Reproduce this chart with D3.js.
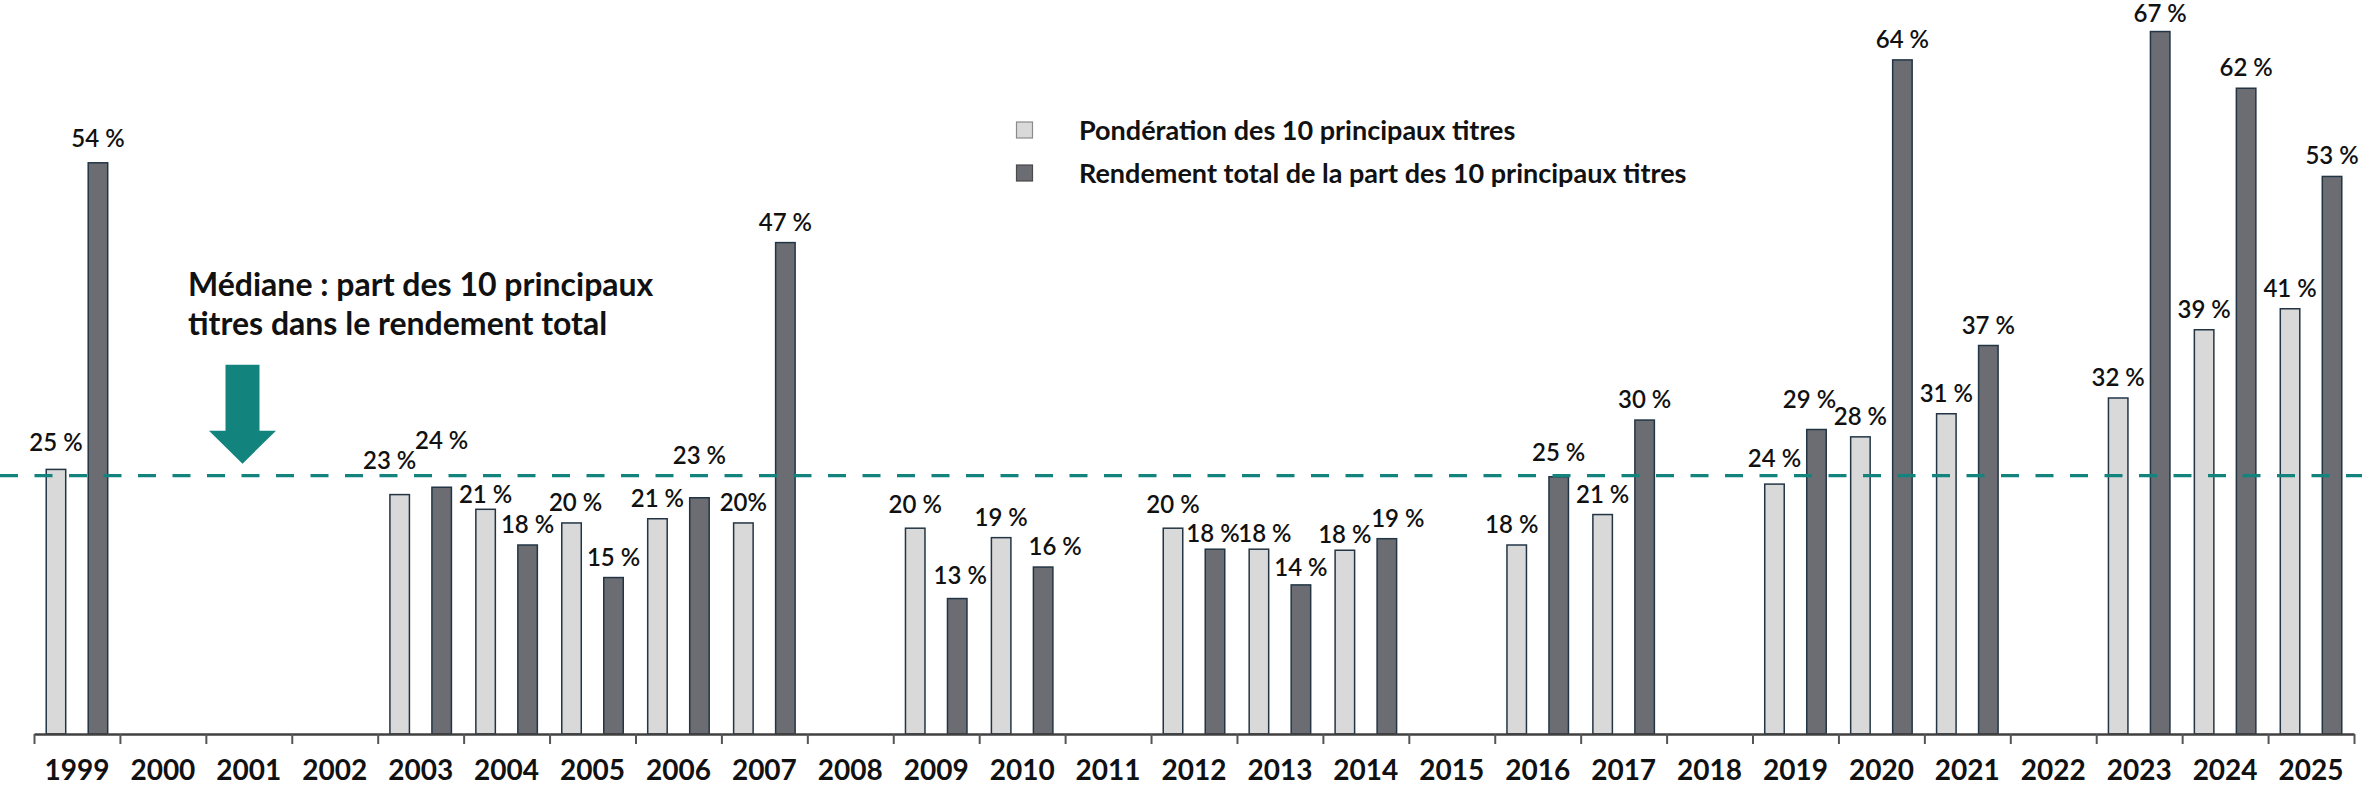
<!DOCTYPE html>
<html>
<head>
<meta charset="utf-8">
<script src="https://cdnjs.cloudflare.com/ajax/libs/d3/7.8.5/d3.min.js"></script>
<style>
  html, body { margin: 0; padding: 0; background: #fff; }
  svg { display: block; font-family: Lato, 'Open Sans', sans-serif; }
</style>
</head>
<body>
<svg width="2376" height="790"></svg>
<script>
const years = ['1999', '2000', '2001', '2002', '2003', '2004', '2005', '2006', '2007',
  '2008', '2009', '2010', '2011', '2012', '2013', '2014', '2015', '2016', '2017',
  '2018', '2019', '2020', '2021', '2022', '2023', '2024', '2025'];
// Pondération des 10 principaux titres (%)
const weights = [25.2, null, null, null, 22.8, 21.4, 20.1, 20.5, 20.1,
  null, 19.6, 18.7, null, 19.6, 17.6, 17.5, null, 18.0, 20.9,
  null, 23.8, 28.3, 30.5, null, 32.0, 38.5, 40.5];
// Rendement total de la part des 10 principaux titres (%)
const returns = [54.4, null, null, null, 23.5, 18.0, 14.9, 22.5, 46.8,
  null, 12.9, 15.9, null, 17.6, 14.2, 18.6, null, 24.5, 29.9,
  null, 29.0, 64.2, 37.0, null, 66.9, 61.5, 53.1];
const median = 24.6;
const seriesNames = ['Pondération des 10 principaux titres',
  'Rendement total de la part des 10 principaux titres'];
const noteLines = ['Médiane : part des 10 principaux', 'titres dans le rendement total'];
const labelText = { '2007-w': '20%' };

const keys = ['w', 'r'];
const fills = { w: '#d9d9d9', r: '#6b6d72' };
const teal = '#13837e';
// hand placed labels in the original, offsets in px
const nudges = {
  '1999-w': [0, -6], '1999-r': [0, -4], '2003-w': [-10, -14], '2003-r': [0, -26],
  '2004-w': [0, 6], '2006-r': [0, -22], '2010-r': [12, 0], '2012-r': [-2, 5],
  '2013-w': [6, 5], '2013-r': [0, 3], '2014-w': [0, 5], '2014-r': [11, 0],
  '2016-w': [-5, 0], '2016-r': [0, -4], '2019-w': [0, -5], '2019-r': [-7, -10],
  '2005-w': [4, 0], '2009-r': [3, -3], '2009-w': [0, -3], '2012-w': [0, -3],
  '2023-r': [0, 2]
};

const svg = d3.select('svg');
const x0 = d3.scaleBand().domain(years).range([34, 2354]);
const x1 = d3
  .scaleBand()
  .domain(keys)
  .range([0, x0.bandwidth()])
  .paddingInner(0.5)
  .paddingOuter(0.273);
const y = d3.scaleLinear().domain([0, 70]).range([734, -1]);

const rows = years.map((year, i) => ({ year, w: weights[i], r: returns[i] }));
const bars = rows.flatMap(d =>
  keys.filter(k => d[k] != null).map(k => ({ year: d.year, key: k, value: d[k] }))
);

// Bars
svg
  .append('g')
  .selectAll('rect')
  .data(bars)
  .join('rect')
  .attr('x', d => x0(d.year) + x1(d.key) + 0.75)
  .attr('y', d => y(d.value))
  .attr('width', x1.bandwidth() - 1.5)
  .attr('height', d => y(0) - y(d.value))
  .attr('fill', d => fills[d.key])
  .attr('stroke', '#233545')
  .attr('stroke-width', 1.5);

// Axis line and boundary ticks
const xb = d3.scaleLinear().domain([0, years.length]).range(x0.range());
svg
  .append('g')
  .attr('transform', `translate(0,${y(0)})`)
  .call(
    d3.axisBottom(xb)
      .tickValues(d3.range(years.length + 1))
      .tickSize(10)
      .tickSizeOuter(0)
      .tickFormat('')
  )
  .call(g => g.select('.domain').attr('stroke', '#404040').attr('stroke-width', 2.5))
  .call(g => g.selectAll('.tick line').attr('stroke', '#555').attr('stroke-width', 2));

// Year labels
svg
  .append('g')
  .attr('transform', `translate(0,${y(0)})`)
  .call(d3.axisBottom(x0).tickSize(0).tickPadding(26))
  .call(g => g.select('.domain').remove())
  .attr('font-family', null)
  .attr('font-size', 28)
  .attr('font-weight', 700)
  .call(g => g.selectAll('text').attr('fill', '#111'));

// Median line
svg
  .append('line')
  .attr('x1', 0)
  .attr('x2', 2362)
  .attr('y1', y(median))
  .attr('y2', y(median))
  .attr('stroke', teal)
  .attr('stroke-width', 3.2)
  .attr('stroke-dasharray', '18,16.5');

// Value labels
svg
  .append('g')
  .attr('font-size', 24)
  .attr('font-weight', 600)
  .attr('text-anchor', 'middle')
  .attr('fill', '#111')
  .selectAll('text')
  .data(bars)
  .join('text')
  .attr('x', d => {
    const n = nudges[`${d.year}-${d.key}`] || [0, 0];
    return x0(d.year) + x1(d.key) + x1.bandwidth() / 2 + n[0];
  })
  .attr('y', d => {
    const n = nudges[`${d.year}-${d.key}`] || [0, 0];
    return y(d.value) - 12 + n[1];
  })
  .text(d => labelText[`${d.year}-${d.key}`] || `${Math.round(d.value)} %`);

// Arrow pointing at the median
const ax = 242.5;
const tipY = y(median) - 12;
svg
  .append('path')
  .attr('d', `M${ax - 17},${tipY - 99}H${ax + 17}V${tipY - 33}H${ax + 33.5}L${ax},${tipY}L${ax - 33.5},${tipY - 33}H${ax - 17}Z`)
  .attr('fill', teal);

svg
  .append('g')
  .attr('font-size', 32)
  .attr('font-weight', 700)
  .attr('fill', '#111')
  .selectAll('text')
  .data(noteLines)
  .join('text')
  .attr('x', 188)
  .attr('y', (d, i) => 296 + i * 39.3)
  .text(d => d);

// Legend
const legend = svg
  .append('g')
  .attr('transform', 'translate(1016, 121.5)')
  .selectAll('g')
  .data(keys)
  .join('g')
  .attr('transform', (d, i) => `translate(0, ${i * 43})`);

legend
  .append('rect')
  .attr('x', 0.5)
  .attr('y', 0.5)
  .attr('width', 16)
  .attr('height', 16)
  .attr('fill', d => fills[d])
  .attr('stroke', d => (d === 'w' ? '#8a8a8a' : '#4a4a4a'))
  .attr('stroke-width', 1.2);

legend
  .append('text')
  .attr('x', 63)
  .attr('y', 18.5)
  .attr('font-size', 27)
  .attr('font-weight', 700)
  .attr('fill', '#111')
  .text((d, i) => seriesNames[i]);
</script>
</body>
</html>
